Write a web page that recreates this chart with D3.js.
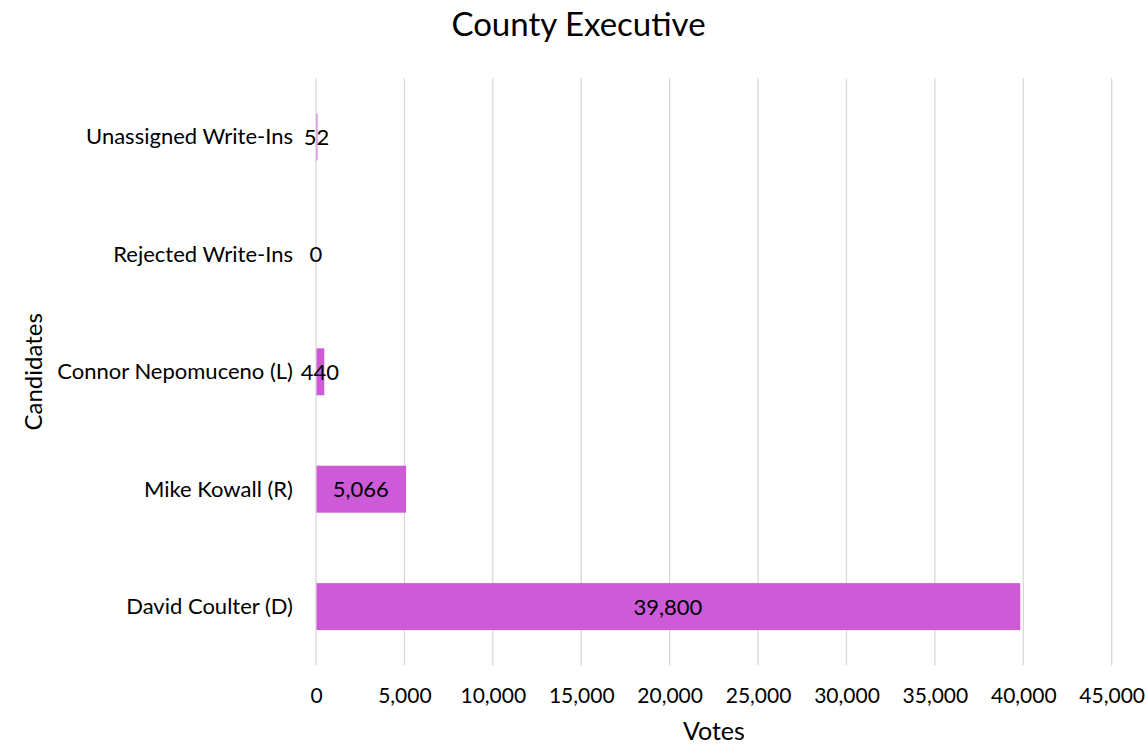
<!DOCTYPE html>
<html><head><meta charset="utf-8">
<script src="https://cdn.jsdelivr.net/npm/d3@7"></script>
<style>body{margin:0;background:#fff}svg{display:block}text{font-family:Lato,"Open Sans",sans-serif;fill:#000}</style>
</head><body>
<svg id="c" width="1147" height="745"></svg>
<script>
const categories = ["Unassigned Write-Ins","Rejected Write-Ins","Connor Nepomuceno (L)","Mike Kowall (R)","David Coulter (D)"];
const votes = [52, 0, 440, 5066, 39800];
const xTicks = [0,5000,10000,15000,20000,25000,30000,35000,40000,45000];
const title = "County Executive";
const xTitle = "Votes";
const yTitle = "Candidates";

const svg = d3.select("#c");
const W = 1147, H = 745;
const m = {left:316, right:W-1111.7, top:78.3, bottom:H-665.3};
const x = d3.scaleLinear().domain([0,45000]).range([m.left, W-m.right]);
const y = d3.scaleBand().domain(categories).range([m.top, H-m.bottom]).paddingInner(0.6).paddingOuter(0.3);
const fmt = d3.format(",");

// gridlines
svg.append("g").selectAll("line").data(xTicks).join("line")
  .attr("x1", d=>x(d)).attr("x2", d=>x(d))
  .attr("y1", m.top).attr("y2", H-m.bottom)
  .attr("stroke","#d9d9d9").attr("stroke-width",1.3);

// bars
svg.append("g").selectAll("rect").data(categories).join("rect")
  .attr("x", x(0)+0.5).attr("y", d=>y(d))
  .attr("width", (d,i)=>Math.max(0, x(votes[i])-x(0)))
  .attr("height", y.bandwidth())
  .attr("fill","#cd5bd8");

// x axis
const xa = svg.append("g").attr("transform",`translate(0,${H-m.bottom})`)
  .call(d3.axisBottom(x).tickValues(xTicks).tickFormat(fmt).tickSize(0).tickPadding(0));
xa.select(".domain").remove();
xa.selectAll("text").attr("font-size",21).attr("font-family","Lato").attr("fill","#000")
  .attr("y", 703-(H-m.bottom)).attr("dy",null);

// y axis
const ya = svg.append("g").attr("transform",`translate(${m.left},0)`)
  .call(d3.axisLeft(y).tickSize(0).tickPadding(23));
ya.select(".domain").remove();
ya.selectAll("text").attr("font-size",22).attr("font-family","Lato").attr("fill","#000")
  .attr("dy",null).attr("y",7.3);

// data labels
svg.append("g").selectAll("text").data(categories).join("text")
  .attr("x",(d,i)=>(x(0)+x(votes[i]))/2)
  .attr("y", d=>y(d)+y.bandwidth()/2+8)
  .attr("text-anchor","middle")
  .attr("font-size",22)
  .text((d,i)=>fmt(votes[i]));

svg.append("text").attr("x",578.5).attr("y",36).attr("text-anchor","middle").attr("font-size",33).text(title);
svg.append("text").attr("x",(x(0)+x(45000))/2).attr("y",740).attr("text-anchor","middle").attr("font-size",25).text(xTitle);
svg.append("text").attr("transform",`translate(41.5,${(m.top+H-m.bottom)/2}) rotate(-90)`).attr("text-anchor","middle").attr("font-size",24).text(yTitle);
</script>
</body></html>
